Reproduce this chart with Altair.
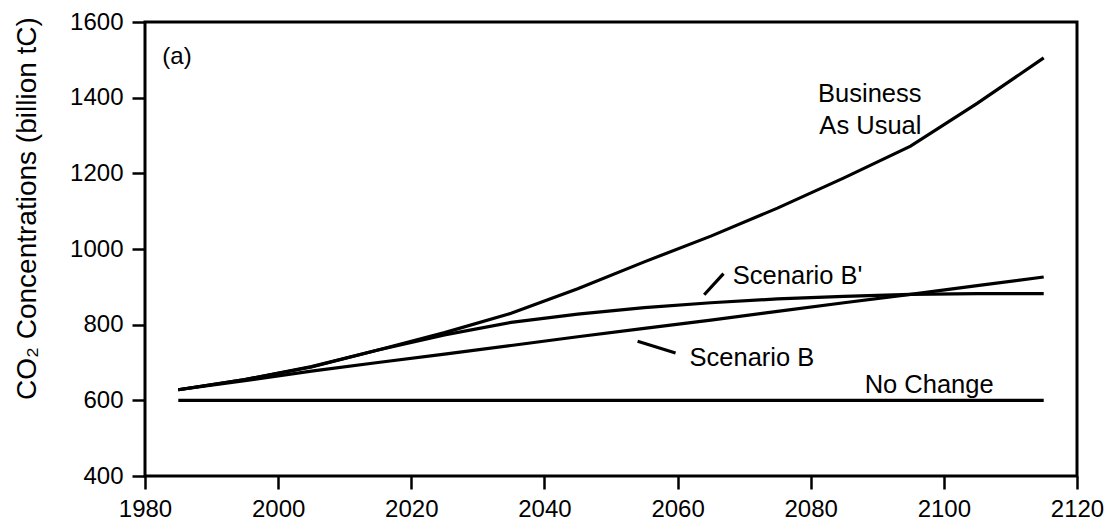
import altair as alt
import pandas as pd

# ---- data ----
years = [1985, 1995, 2005, 2015, 2025, 2035, 2045, 2055, 2065, 2075, 2085, 2095, 2105, 2115]
bau = [628, 655, 688, 733, 779, 830, 895, 966, 1034, 1108, 1188, 1272, 1385, 1505]
scen_b_prime = [628, 655, 689, 733, 773, 806, 828, 845, 858, 868, 875, 880, 882, 882]
scen_b = [628, 652, 677, 700, 722, 745, 768, 790, 812, 835, 858, 880, 903, 926]
no_change_years = [1985, 2115]
no_change = [600, 600]

label_text = ["Business", "As Usual", "Scenario B'", "Scenario B", "No Change"]
label_x = [2081.1, 2081.3, 2068.3, 2061.8, 2088.1]
label_y = [1389, 1305, 908, 692, 619]

leader_x = [2064.0, 2054.0]
leader_y = [879, 756]
leader_x2 = [2066.9, 2059.7]
leader_y2 = [935, 725]

panel_text = ["(a)"]
panel_x = [1982.6]
panel_y = [1490]

x_ticks = [1980, 2000, 2020, 2040, 2060, 2080, 2100, 2120]
y_ticks = [400, 600, 800, 1000, 1200, 1400, 1600]

FONT = "Liberation Sans"

rows = []
for name, vals in [("Business As Usual", bau), ("Scenario B'", scen_b_prime), ("Scenario B", scen_b)]:
    for yr, v in zip(years, vals):
        rows.append({"series": name, "year": yr, "value": v})
for yr, v in zip(no_change_years, no_change):
    rows.append({"series": "No Change", "year": yr, "value": v})
lines_df = pd.DataFrame(rows)

labels_df = pd.DataFrame({"text": label_text, "x": label_x, "y": label_y})
leaders_df = pd.DataFrame({"x": leader_x, "y": leader_y, "x2": leader_x2, "y2": leader_y2})
panel_df = pd.DataFrame({"text": panel_text, "x": panel_x, "y": panel_y})

x_scale = alt.Scale(domain=[1980, 2120], nice=False, zero=False)
y_scale = alt.Scale(domain=[400, 1600], nice=False, zero=False)

x_axis = alt.Axis(values=x_ticks, format="d", title=None, grid=False, domain=False,
                  tickSize=13, tickWidth=2.5, tickColor="black", labelPadding=8,
                  labelFontSize=24, labelFont=FONT, labelColor="black",
                  labelFlush=False, labelOverlap=False)
y_axis = alt.Axis(values=y_ticks, format="d", title="CO\u2082 Concentrations (billion tC)",
                  grid=False, domain=False, tickSize=13, tickWidth=2.5, tickColor="black",
                  labelPadding=9, labelFontSize=24, labelFont=FONT, labelColor="black",
                  labelOverlap=False, titleFont=FONT, titleFontSize=28, titleFontWeight="normal",
                  titleColor="black", titleAngle=270, titleBaseline="alphabetic",
                  titleAlign="center", titleX=-110, titleY=186)

lines = alt.Chart(lines_df).mark_line(color="black", strokeWidth=3.2).encode(
    x=alt.X("year:Q", scale=x_scale, axis=x_axis),
    y=alt.Y("value:Q", scale=y_scale, axis=y_axis),
    detail="series:N",
    order="year:Q",
)

labels = alt.Chart(labels_df).mark_text(align="left", baseline="alphabetic", font=FONT,
                                        fontSize=25.5, color="black").encode(
    x=alt.X("x:Q", scale=x_scale), y=alt.Y("y:Q", scale=y_scale), text="text:N")

leaders = alt.Chart(leaders_df).mark_rule(color="black", strokeWidth=3.2).encode(
    x=alt.X("x:Q", scale=x_scale), y=alt.Y("y:Q", scale=y_scale), x2="x2:Q", y2="y2:Q")

panel = alt.Chart(panel_df).mark_text(align="left", baseline="alphabetic", font=FONT,
                                      fontSize=24, color="black").encode(
    x=alt.X("x:Q", scale=x_scale), y=alt.Y("y:Q", scale=y_scale), text="text:N")

chart = alt.layer(lines, leaders, labels, panel).properties(
    width=932, height=454,
    autosize=alt.AutoSizeParams(type="none"),
    padding={"left": 137, "top": 14, "right": 29, "bottom": 45},
    background="white",
).configure_view(stroke="black", strokeWidth=3)

chart.save("out.html", embed_options={"renderer": "svg", "actions": False})
